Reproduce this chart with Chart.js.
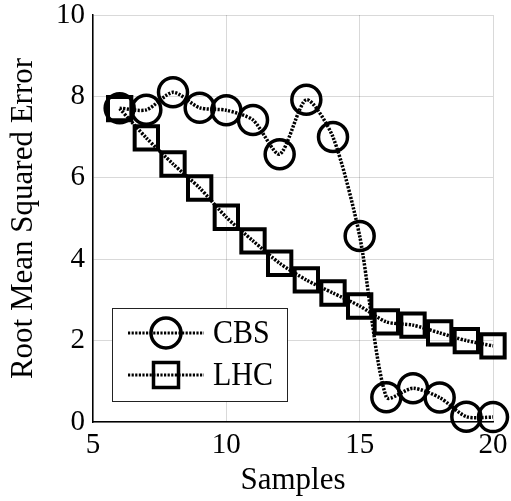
<!DOCTYPE html>
<html lang="en">
<head>
    <meta charset="UTF-8">
    <title>RMSE vs Samples</title>
    <script src="https://cdn.jsdelivr.net/npm/chart.js"></script>
    <style>
        html, body { margin: 0; padding: 0; background: white; }
        #wrap { width: 511px; height: 501px; }
    </style>
</head>
<body>
    <div id="wrap"><canvas id="myChart" width="511" height="501"></canvas></div>
    <script>
        const samples = [6, 7, 8, 9, 10, 11, 12, 13, 14, 15, 16, 17, 18, 19, 20];
        const cbsRmse = [7.71, 7.67, 8.1, 7.72, 7.66, 7.42, 6.58, 7.92, 7.0, 4.57, 0.61, 0.83, 0.6, 0.13, 0.12];
        const lhcRmse = [7.7, 6.98, 6.34, 5.75, 5.03, 4.45, 3.9, 3.49, 3.17, 2.85, 2.46, 2.38, 2.19, 2.0, 1.87];
        const seriesNames = ['CBS', 'LHC'];
        const xTicks = [5, 10, 15, 20];
        const yTicks = [0, 2, 4, 6, 8, 10];

        const serif = "'Liberation Serif', 'Times New Roman', serif";
        const dash = [2.2, 1.4];

        function toPoints(ys) {
            return samples.map((x, i) => ({ x: x, y: ys[i] }));
        }

        // legend box drawn inside the plot, bottom left
        const boxLegend = {
            id: 'boxLegend',
            afterDraw(chart) {
                const ctx = chart.ctx;
                const area = chart.chartArea;
                const x0 = area.left + 19, y1 = area.bottom - 21;
                const w = 175, h = 93;
                const y0 = y1 - h;
                ctx.save();
                ctx.fillStyle = 'white';
                ctx.fillRect(x0, y0, w, h);
                ctx.strokeStyle = '#222';
                ctx.lineWidth = 1;
                ctx.strokeRect(x0 + 0.5, y0 + 0.5, w, h);

                const rows = [y0 + 25, y0 + 67];
                rows.forEach((ry, i) => {
                    ctx.setLineDash(dash);
                    ctx.lineWidth = 3;
                    ctx.strokeStyle = 'black';
                    ctx.beginPath();
                    ctx.moveTo(x0 + 16, ry);
                    ctx.lineTo(x0 + 92, ry);
                    ctx.stroke();
                    ctx.setLineDash([]);
                    ctx.lineWidth = 3.5;
                    const mx = x0 + 54;
                    ctx.beginPath();
                    if (i === 0) {
                        ctx.arc(mx, ry, 15, 0, Math.PI * 2);
                    } else {
                        ctx.rect(mx - 12.5, ry - 12.5, 25, 25);
                    }
                    ctx.stroke();
                    // slight vertical stretch to match the original lettering
                    ctx.save();
                    ctx.translate(x0 + 101, ry + 1);
                    ctx.scale(1, 1.12);
                    ctx.fillStyle = 'black';
                    ctx.font = '30px ' + serif;
                    ctx.textBaseline = 'middle';
                    ctx.textAlign = 'left';
                    ctx.fillText(seriesNames[i], 0, 0);
                    ctx.restore();
                });
                ctx.restore();
            }
        };

        const ctx = document.getElementById('myChart').getContext('2d');
        const chart = new Chart(ctx, {
            type: 'line',
            data: {
                datasets: [{
                    label: seriesNames[0],
                    data: toPoints(cbsRmse),
                    borderColor: 'black',
                    borderWidth: 3.5,
                    borderDash: dash,
                    tension: 0.25,
                    pointStyle: 'circle',
                    pointRadius: 14.5,
                    pointBorderWidth: 3.5,
                    pointBorderColor: 'black',
                    pointBackgroundColor: 'rgba(0,0,0,0)',
                    fill: false,
                    clip: false
                }, {
                    label: seriesNames[1],
                    data: toPoints(lhcRmse),
                    borderColor: 'black',
                    borderWidth: 3.5,
                    borderDash: dash,
                    tension: 0.25,
                    pointStyle: 'rect',
                    pointRadius: 16.5,
                    pointBorderWidth: 4,
                    pointBorderColor: 'black',
                    pointBackgroundColor: 'rgba(0,0,0,0)',
                    fill: false,
                    clip: false
                }]
            },
            options: {
                responsive: false,
                animation: false,
                layout: { autoPadding: false, padding: { top: 15, right: 18, left: 0, bottom: 0 } },
                plugins: {
                    legend: { display: false },
                    tooltip: { enabled: false }
                },
                scales: {
                    x: {
                        type: 'linear',
                        min: 5,
                        max: 20,
                        afterBuildTicks: s => { s.ticks = xTicks.map(v => ({ value: v })); },
                        afterFit: s => { s.height = 79; s.paddingLeft = 0; s.paddingRight = 0; },
                        grid: { color: 'rgba(0,0,0,0.15)', drawTicks: false },
                        border: { color: 'black', width: 1.5 },
                        ticks: { color: 'black', padding: 9, font: { family: serif, size: 29, lineHeight: 1 } },
                        title: {
                            display: true,
                            text: 'Samples',
                            color: 'black',
                            padding: { top: 0, bottom: 2 },
                            font: { family: serif, size: 31 }
                        }
                    },
                    y: {
                        min: 0,
                        max: 10,
                        afterBuildTicks: s => { s.ticks = yTicks.map(v => ({ value: v })); },
                        afterFit: s => { s.width = 93; s.paddingTop = 0; s.paddingBottom = 0; },
                        grid: { color: 'rgba(0,0,0,0.15)', drawTicks: false },
                        border: { color: 'black', width: 1.5 },
                        ticks: { color: 'black', padding: 8, font: { family: serif, size: 29, lineHeight: 1 } },
                        title: {
                            display: true,
                            text: 'Root Mean Squared Error',
                            color: 'black',
                            padding: { top: 5, bottom: 0 },
                            font: { family: serif, size: 31 }
                        }
                    }
                }
            },
            plugins: [boxLegend]
        });
    </script>
</body>
</html>
